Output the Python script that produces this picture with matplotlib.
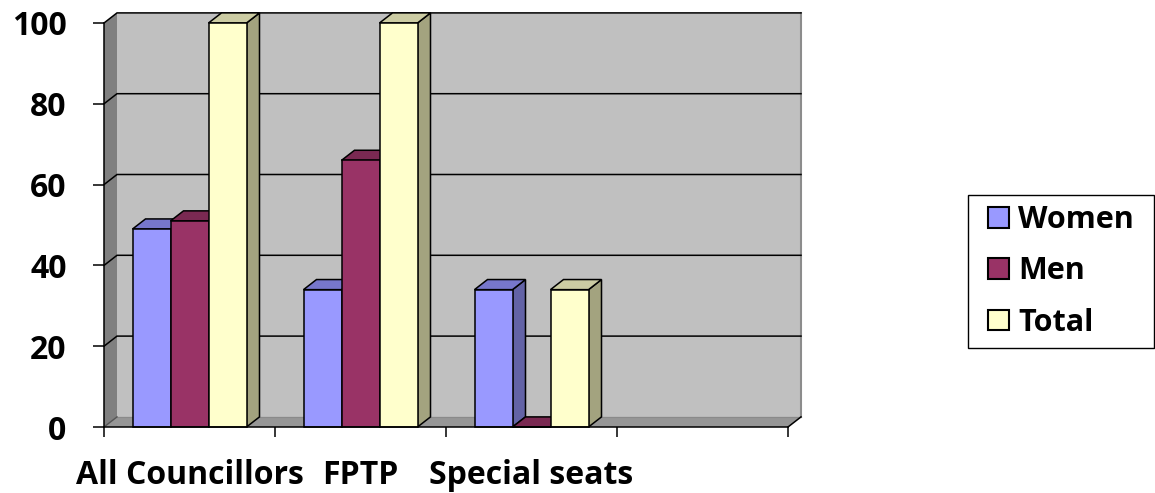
import matplotlib
matplotlib.use("Agg")
import matplotlib.pyplot as plt
import numpy as np
from matplotlib.patches import Polygon, Patch, Rectangle

plt.rcParams['font.family'] = ['Open Sans', 'DejaVu Sans']
plt.rcParams['font.weight'] = 'bold'

# Data
categories = ["All Councillors", "FPTP", "Special seats", ""]
series_names = ["Women", "Men", "Total"]
women = [49, 34, 34, np.nan]
men = [51, 66, 0, np.nan]
total = [100, 100, 34, np.nan]
y_ticks = [0, 20, 40, 60, 80, 100]

# Styling
front_colors = ["#9999FF", "#993366", "#FFFFCC"]
top_colors = ["#7777CC", "#7A2952", "#CCCCA3"]
side_colors = ["#6363A6", "#66223F", "#A3A37F"]
edge_lw = 1.1

W, H = 1155, 493
fig = plt.figure(figsize=(W / 100, H / 100), dpi=100)
ax = fig.add_axes([104 / W, 66 / H, 684 / W, 404 / H])
n = len(categories)
ymax = y_ticks[-1]
ax.set_xlim(0, n)
ax.set_ylim(0, ymax)
ax.patch.set_visible(False)

# depth offset of the 3D walls / bars (in data units)
dx = 13 / 171
dy = 2.5

# walls and floor
ax.add_patch(Polygon([(dx, dy), (n + dx, dy), (n + dx, ymax + dy), (dx, ymax + dy)],
                     closed=True, fc="#C0C0C0", ec="none", clip_on=False, zorder=1))
ax.add_patch(Polygon([(0, 0), (dx, dy), (dx, ymax + dy), (0, ymax)],
                     closed=True, fc="#808080", ec="none", clip_on=False, zorder=1))
ax.add_patch(Polygon([(0, 0), (dx, dy), (n + dx, dy), (n, 0)],
                     closed=True, fc="#969696", ec="none", clip_on=False, zorder=1))
ax.plot([n + dx, n + dx], [dy, ymax + dy], color="#8C8C8C", lw=1.5, clip_on=False, zorder=1.5)
ax.plot([dx, n + dx], [dy, dy], color="#8A8A8A", lw=0.8, clip_on=False, zorder=1.5)
ax.plot([0, dx], [0, dy], color="#555555", lw=1.0, clip_on=False, zorder=1.5)
ax.plot([n, n + dx], [0, dy], color="black", lw=edge_lw, clip_on=False, zorder=1.5)

# gridlines across the side and back walls
for v in y_ticks[1:]:
    ax.plot([0, dx, n + dx], [v, v + dy, v + dy], color="black", lw=edge_lw,
            clip_on=False, zorder=2, solid_joinstyle="miter")

# 3D clustered columns
w = 1 / 4.5
gap = (1 - 3 * w) / 2
series = [women, men, total]
for i in range(n):
    for j, vals in enumerate(series):
        v = vals[i]
        if np.isnan(v):
            continue
        x0 = i + gap + j * w
        x1 = x0 + w
        side = [(x1, 0), (x1 + dx, dy), (x1 + dx, v + dy), (x1, v)]
        top = [(x0, v), (x0 + dx, v + dy), (x1 + dx, v + dy), (x1, v)]
        front = [(x0, 0), (x1, 0), (x1, v), (x0, v)]
        for pts, col in ((side, side_colors[j]), (top, top_colors[j]), (front, front_colors[j])):
            ax.add_patch(Polygon(pts, closed=True, fc=col, ec="black", lw=edge_lw,
                                 joinstyle="miter", clip_on=False, zorder=3))

# axes
for s in ("top", "right"):
    ax.spines[s].set_visible(False)
for s in ("left", "bottom"):
    ax.spines[s].set_linewidth(edge_lw)
    ax.spines[s].set_zorder(5)

ax.set_yticks(y_ticks)
ax.tick_params(axis="y", length=8, width=edge_lw, pad=19, labelsize=23)
ax.set_xticks(range(n + 1))
ax.set_xticklabels([])
ax.set_xticks(np.arange(n) + 0.5, minor=True)
ax.set_xticklabels(categories, minor=True)
ax.tick_params(axis="x", which="major", length=7.5, width=edge_lw)
ax.tick_params(axis="x", which="minor", length=0, pad=23, labelsize=23)

# legend, with a box drawn around its content
handles = [Patch(fc=front_colors[k], ec="black", lw=1.5) for k in range(3)]
leg = fig.legend(handles, series_names, loc="upper left",
                 bbox_to_anchor=(988 / W, 1 - 205 / H), fontsize=22,
                 frameon=False, handlelength=0.69, handleheight=0.66,
                 handletextpad=0.3, labelspacing=0.7, borderpad=0, borderaxespad=0)
fig.canvas.draw()
bb = leg.get_window_extent(fig.canvas.get_renderer())
pad_x, pad_y = 20, 10
fig.patches.append(Rectangle(((bb.x0 - pad_x) / W, (bb.y0 - pad_y) / H),
                             (bb.width + 2 * pad_x) / W, (bb.height + 2 * pad_y) / H,
                             transform=fig.transFigure, fc="white", ec="black", lw=1.0,
                             zorder=0))

fig.savefig("out.png", dpi=100)
